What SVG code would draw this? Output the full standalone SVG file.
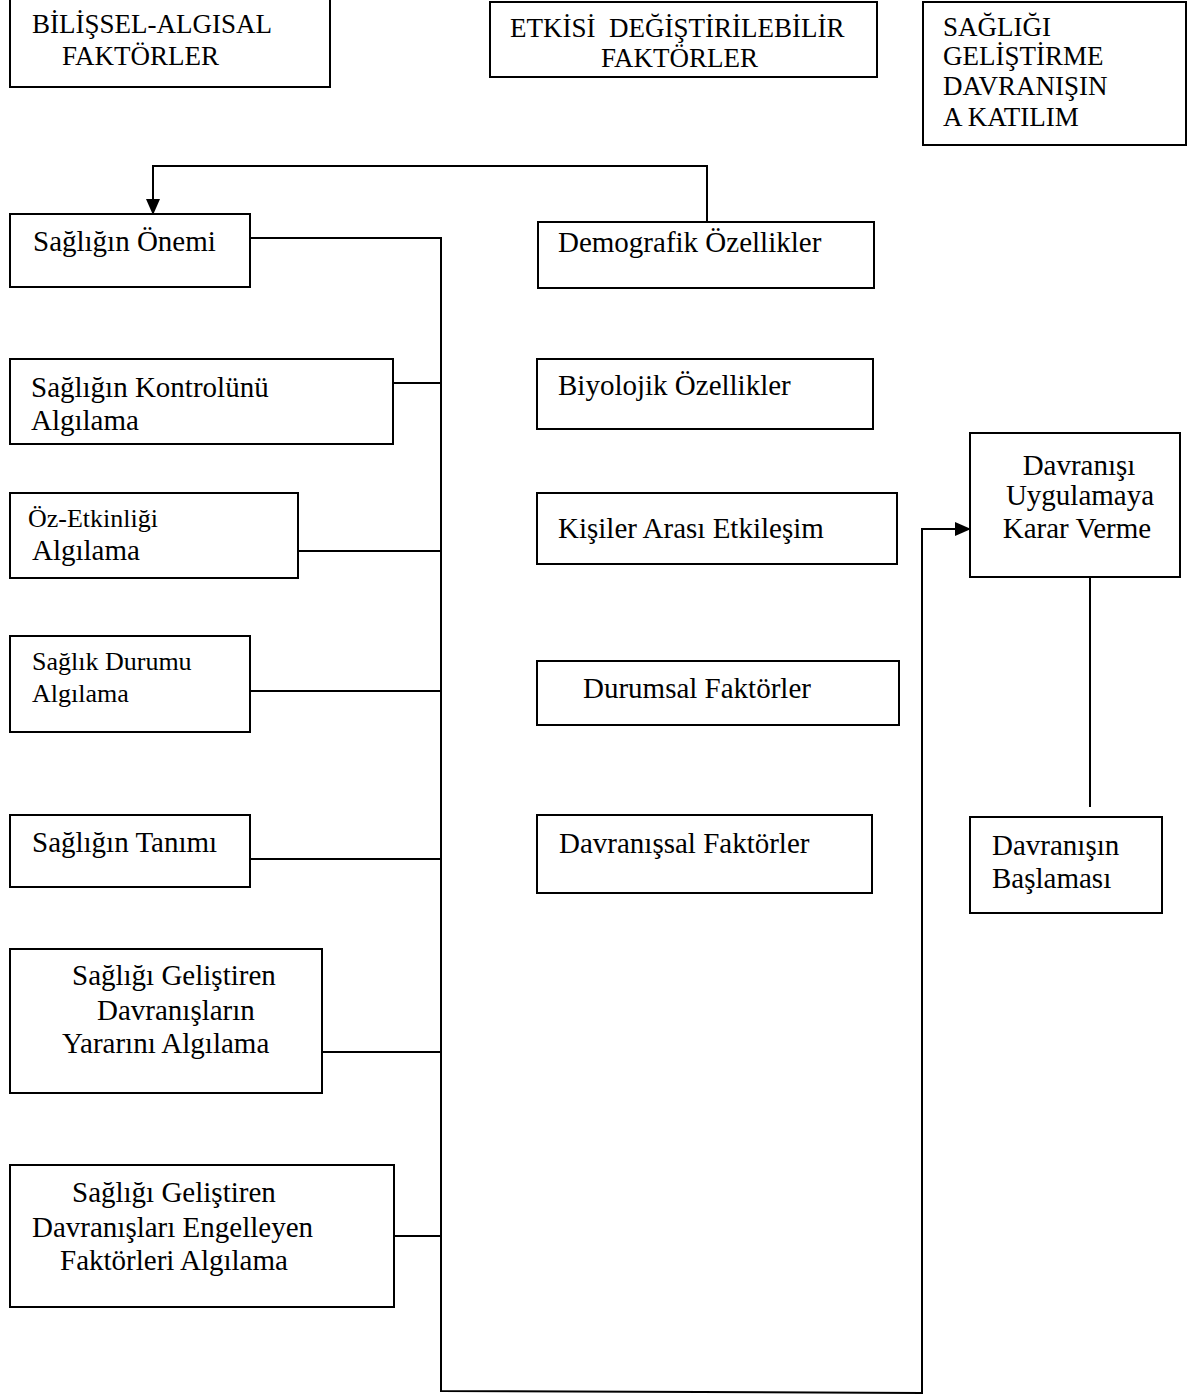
<svg xmlns="http://www.w3.org/2000/svg" width="1192" height="1396" viewBox="0 0 1192 1396">
<style>
.box{fill:#fff;stroke:#000;stroke-width:2}
.t{font-family:"Liberation Serif","Times New Roman",serif;font-size:29px;fill:#000}
.h{font-family:"Liberation Serif","Times New Roman",serif;font-size:27px;fill:#000;white-space:pre}
.s{font-size:26px}
.ln{fill:none;stroke:#000;stroke-width:2}
</style>
<defs>
<marker id="ah" markerWidth="16" markerHeight="14" refX="15" refY="7" orient="auto" markerUnits="userSpaceOnUse">
<path d="M0,0 L16,7 L0,14 Z" fill="#000"/>
</marker>
</defs>
<rect width="1192" height="1396" fill="#fff"/>
<g id="connectors">
<polyline class="ln" points="707,222 707,166 153,166 153,214" marker-end="url(#ah)"/>
<polyline class="ln" points="250,238 441,238 441,1391 922,1393 922,529 970,529" marker-end="url(#ah)"/>
<line class="ln" x1="393" y1="383" x2="441" y2="383"/>
<line class="ln" x1="298" y1="551" x2="441" y2="551"/>
<line class="ln" x1="250" y1="691" x2="441" y2="691"/>
<line class="ln" x1="250" y1="859" x2="441" y2="859"/>
<line class="ln" x1="322" y1="1052" x2="441" y2="1052"/>
<line class="ln" x1="394" y1="1236" x2="441" y2="1236"/>
<line class="ln" x1="1090" y1="577" x2="1090" y2="807"/>
</g>
<g id="h1"><rect class="box" x="10" y="-2" width="320" height="89"/>
<text class="h" x="32" y="33">BİLİŞSEL-ALGISAL</text><text class="h" x="62" y="65">FAKTÖRLER</text></g>
<g id="h2"><rect class="box" x="490" y="2" width="387" height="75"/>
<text class="h" x="510" y="37">ETKİSİ  DEĞİŞTİRİLEBİLİR</text><text class="h" x="601" y="67">FAKTÖRLER</text></g>
<g id="h3"><rect class="box" x="923" y="2" width="263" height="143"/>
<text class="h" x="943" y="36">SAĞLIĞI</text><text class="h" x="943" y="65">GELİŞTİRME</text><text class="h" x="943" y="95">DAVRANIŞIN</text><text class="h" x="943" y="126">A KATILIM</text></g>
<g id="n1"><rect class="box" x="10" y="214" width="240" height="73"/><text class="t" x="33" y="251">Sağlığın Önemi</text></g>
<g id="n2"><rect class="box" x="10" y="359" width="383" height="85"/><text class="t" x="31" y="397">Sağlığın Kontrolünü</text><text class="t" x="31" y="430">Algılama</text></g>
<g id="n3"><rect class="box" x="10" y="493" width="288" height="85"/><text class="t s" x="28" y="527">Öz-Etkinliği</text><text class="t" x="32" y="560">Algılama</text></g>
<g id="n4"><rect class="box" x="10" y="636" width="240" height="96"/><text class="t s" x="32" y="670">Sağlık Durumu</text><text class="t s" x="32" y="702">Algılama</text></g>
<g id="n5"><rect class="box" x="10" y="815" width="240" height="72"/><text class="t" x="32" y="852">Sağlığın Tanımı</text></g>
<g id="n6"><rect class="box" x="10" y="949" width="312" height="144"/><text class="t" x="72" y="985">Sağlığı Geliştiren</text><text class="t" x="97" y="1020">Davranışların</text><text class="t" x="62" y="1053">Yararını Algılama</text></g>
<g id="n7"><rect class="box" x="10" y="1165" width="384" height="142"/><text class="t" x="72" y="1202">Sağlığı Geliştiren</text><text class="t" x="32" y="1237">Davranışları Engelleyen</text><text class="t" x="60" y="1270">Faktörleri Algılama</text></g>
<g id="m1"><rect class="box" x="538" y="222" width="336" height="66"/><text class="t" x="558" y="252">Demografik Özellikler</text></g>
<g id="m2"><rect class="box" x="537" y="359" width="336" height="70"/><text class="t" x="558" y="395">Biyolojik Özellikler</text></g>
<g id="m3"><rect class="box" x="537" y="493" width="360" height="71"/><text class="t" x="558" y="538">Kişiler Arası Etkileşim</text></g>
<g id="m4"><rect class="box" x="537" y="661" width="362" height="64"/><text class="t" x="583" y="698">Durumsal Faktörler</text></g>
<g id="m5"><rect class="box" x="537" y="815" width="335" height="78"/><text class="t" x="559" y="853">Davranışsal Faktörler</text></g>
<g id="r1"><rect class="box" x="970" y="433" width="210" height="144"/><text class="t" x="1079" y="475" text-anchor="middle">Davranışı</text><text class="t" x="1080" y="505" text-anchor="middle">Uygulamaya</text><text class="t" x="1077" y="538" text-anchor="middle">Karar Verme</text></g>
<g id="r2"><rect class="box" x="970" y="817" width="192" height="96"/><text class="t" x="992" y="855">Davranışın</text><text class="t" x="992" y="888">Başlaması</text></g>
</svg>
